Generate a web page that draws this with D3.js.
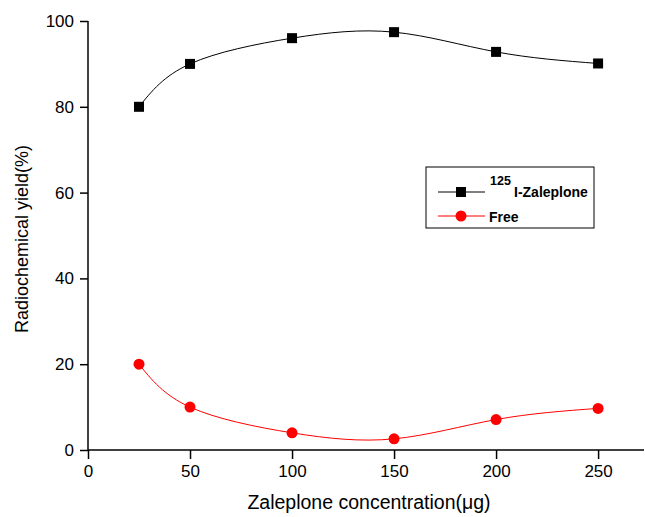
<!DOCTYPE html>
<html>
<head>
<meta charset="utf-8">
<script src="https://cdn.jsdelivr.net/npm/d3@7"></script>
<style>
body { margin: 0; background: #fff; }
text { font-family: Arial, "Liberation Sans", sans-serif; }
</style>
</head>
<body>
<script>
var concentrations = [25, 50, 100, 150, 200, 250];
var zaleplone = [80, 90, 96, 97.4, 92.8, 90.1];
var free = [20, 10, 4, 2.6, 7.1, 9.7];
var xTicks = [0, 50, 100, 150, 200, 250];
var yTicks = [0, 20, 40, 60, 80, 100];

var width = 645, height = 517;

var x = d3.scaleLinear().domain([0, 272.5]).range([88, 644]);
var y = d3.scaleLinear().domain([0, 100]).range([450, 21]);

var svg = d3.select("body").append("svg")
    .attr("width", width)
    .attr("height", height);

// x axis
var xAxis = svg.append("g").attr("transform", "translate(0,450)");
xAxis.call(d3.axisBottom(x).tickValues(d3.range(25, 275, 50)).tickSize(5).tickFormat(""));
xAxis.call(d3.axisBottom(x).tickValues(xTicks).tickSize(9).tickPadding(6));
xAxis.selectAll(".domain").remove();
xAxis.append("line").attr("x1", 88).attr("x2", 644).attr("stroke", "#000").attr("stroke-width", 1.5);

// y axis
var yAxis = svg.append("g").attr("transform", "translate(88,0)");
yAxis.call(d3.axisLeft(y).tickValues(d3.range(10, 100, 20)).tickSize(5).tickFormat(""));
yAxis.call(d3.axisLeft(y).tickValues(yTicks).tickSize(8).tickPadding(6));
yAxis.selectAll(".domain").remove();
yAxis.append("line").attr("y1", 21).attr("y2", 450).attr("stroke", "#000").attr("stroke-width", 1.5);

svg.selectAll(".tick line").attr("stroke", "#000").attr("stroke-width", 1.5);
svg.selectAll(".tick text").attr("fill", "#000").style("font-size", "17px");

// axis titles
svg.append("text")
    .attr("x", 369).attr("y", 509)
    .attr("text-anchor", "middle")
    .style("font-size", "19.5px")
    .text("Zaleplone concentration(\u03bcg)");

svg.append("text")
    .attr("transform", "translate(28,239) rotate(-90)")
    .attr("text-anchor", "middle")
    .style("font-size", "18px")
    .text("Radiochemical yield(%)");

var line = function(vals) {
    return d3.line()
        .x(function(d, i) { return x(concentrations[i]); })
        .y(function(d) { return y(d); })
        .curve(d3.curveNatural)(vals);
};

svg.append("path").attr("d", line(zaleplone))
    .attr("fill", "none").attr("stroke", "#000").attr("stroke-width", 1);
svg.append("path").attr("d", line(free))
    .attr("fill", "none").attr("stroke", "red").attr("stroke-width", 1);

svg.selectAll("rect.pt").data(zaleplone).enter().append("rect")
    .attr("class", "pt")
    .attr("x", function(d, i) { return x(concentrations[i]) - 5; })
    .attr("y", function(d) { return y(d) - 5; })
    .attr("width", 10).attr("height", 10)
    .attr("fill", "#000");

svg.selectAll("circle.pt").data(free).enter().append("circle")
    .attr("class", "pt")
    .attr("cx", function(d, i) { return x(concentrations[i]); })
    .attr("cy", function(d) { return y(d); })
    .attr("r", 5.5)
    .attr("fill", "red");

// legend
var lg = svg.append("g");
lg.append("rect").attr("x", 426).attr("y", 167).attr("width", 168).attr("height", 61)
    .attr("fill", "#fff").attr("stroke", "#000").attr("stroke-width", 1);
lg.append("line").attr("x1", 438).attr("x2", 485).attr("y1", 192).attr("y2", 192).attr("stroke", "#000");
lg.append("rect").attr("x", 456).attr("y", 187).attr("width", 10).attr("height", 10).attr("fill", "#000");
lg.append("line").attr("x1", 438).attr("x2", 485).attr("y1", 216).attr("y2", 216).attr("stroke", "red");
lg.append("circle").attr("cx", 461).attr("cy", 216).attr("r", 5.5).attr("fill", "red");

var t1 = lg.append("text").attr("x", 490).attr("y", 197)
    .style("font-weight", "bold");
t1.append("tspan").attr("dy", "-12").style("font-size", "12.5px").text("125");
t1.append("tspan").attr("x", 514).attr("dy", "12").style("font-size", "14px").text("I-Zaleplone");
lg.append("text").attr("x", 489).attr("y", 222)
    .style("font-size", "14px").style("font-weight", "bold").text("Free");
</script>
</body>
</html>
